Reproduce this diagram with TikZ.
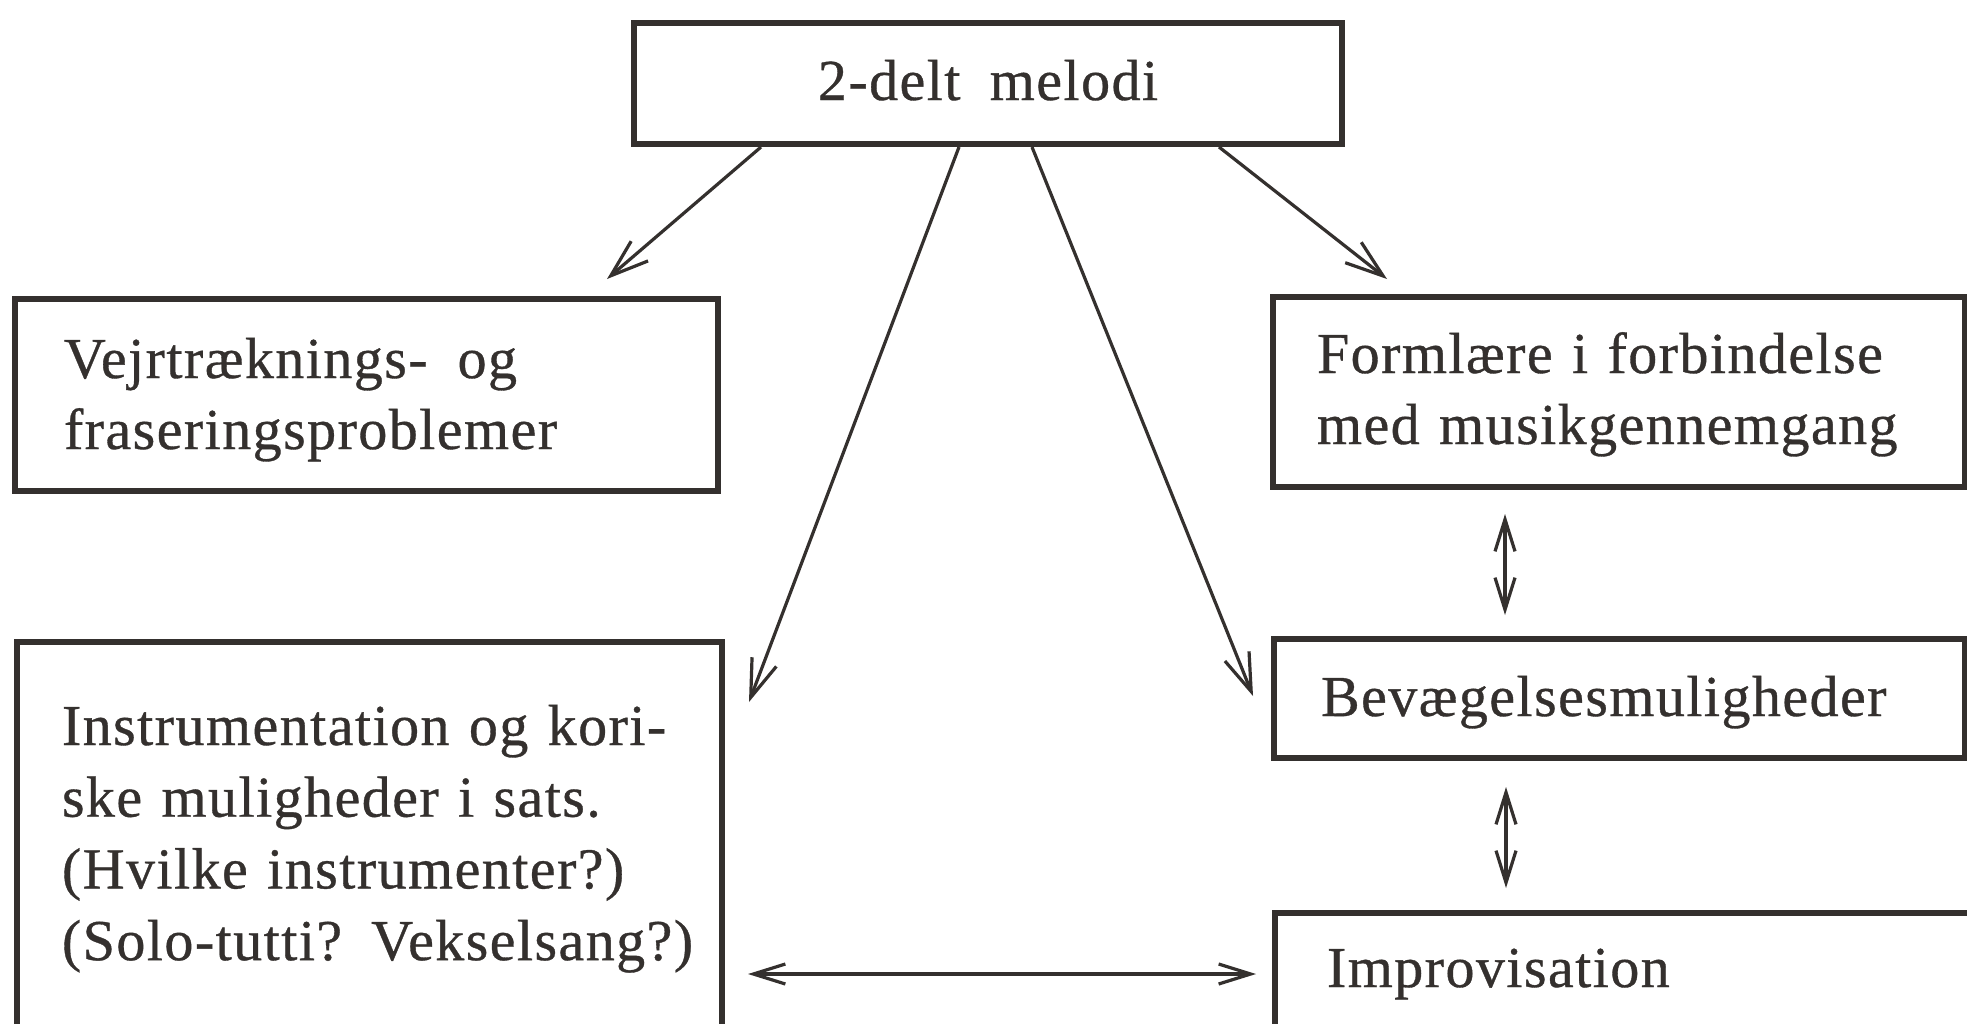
\documentclass[tikz,border=0pt]{standalone}
\usepackage{fontspec}
\setmainfont[LetterSpace=2.5,FakeBold=0.6]{Liberation Serif}
\usetikzlibrary{arrows.meta,calc}
\definecolor{ink}{RGB}{52,48,46}
\begin{document}
\begin{tikzpicture}[x=1pt,y=-1pt,
  box/.style={draw=ink, line width=5.5pt, outer sep=0pt, inner ysep=0pt,
    anchor=north west, align=left, text=ink, font=\fontsize{58}{71}\selectfont},
  arr/.style={draw=ink, line width=3.2pt, -{Straight Barb[length=38pt,width=26pt]}},
  dbl/.style={draw=ink, line width=3.2pt,
    {Straight Barb[length=32pt,width=20pt]}-{Straight Barb[length=32pt,width=20pt]}},
]
\useasboundingbox (0,0) rectangle (1967,1023);
\clip (0,0) rectangle (1967,1023);
\fill[white] (0,0) rectangle (1967,1023);

\node[box, inner xsep=20pt, text width=668pt, align=center,
      text height=77pt, text depth=44pt] (top) at (634,23) {2-delt\hspace{10pt} melodi};

\node[box, inner xsep=49pt, text width=605pt, text height=79pt, text depth=113pt]
  (lb1) at (15,299) {\mbox{Vejrtræknings-\hspace{30pt}og}\\\mbox{fraseringsproblemer}};

\node[box, inner xsep=45pt, text width=615pt, text height=103pt, text depth=450pt,
      font=\fontsize{58}{71.7}\selectfont]
  (lb2) at (17,642) {\mbox{Instrumentation og kori-}\\\mbox{ske muligheder i sats.}\\\mbox{(Hvilke instrumenter?)}\\\mbox{(Solo-tutti? Vekselsang?)}};

\node[box, inner xsep=44pt, text width=604pt, text height=76pt, text depth=114pt]
  (rb1) at (1273,297) {\mbox{Formlære i forbindelse}\\\mbox{med musikgennemgang}};

\node[box, inner xsep=47pt, text width=597pt, text height=77pt, text depth=42pt]
  (rb2) at (1274,639) {\mbox{Bevægelsesmuligheder}};

\node[box, inner xsep=52pt, text width=616pt, text height=74pt, text depth=200pt]
  (rb3) at (1275,913) {\mbox{Improvisation}};

\draw[arr] ($(top.south west)+(127,3)$) -- ($(lb1.north east)+(-111,-20)$);
\draw[arr] ($(top.south west)+(325,3)$) -- ($(lb2.north east)+(27,60)$);
\draw[arr] ($(top.south west)+(398,3)$) -- ($(rb2.north west)+(-21,57)$);
\draw[arr] ($(top.south west)+(585,3)$) -- ($(rb1.north west)+(114,-18)$);
\draw[dbl] ($(rb1.south west)+(232,27)$) -- ($(rb2.north west)+(231,-24)$);
\draw[dbl] ($(rb2.south west)+(232,29)$) -- ($(rb3.north west)+(231,-25)$);
\draw[dbl] ($(lb2.north east)+(26,332)$) -- ($(rb3.north west)+(-19,61)$);
\end{tikzpicture}
\end{document}
